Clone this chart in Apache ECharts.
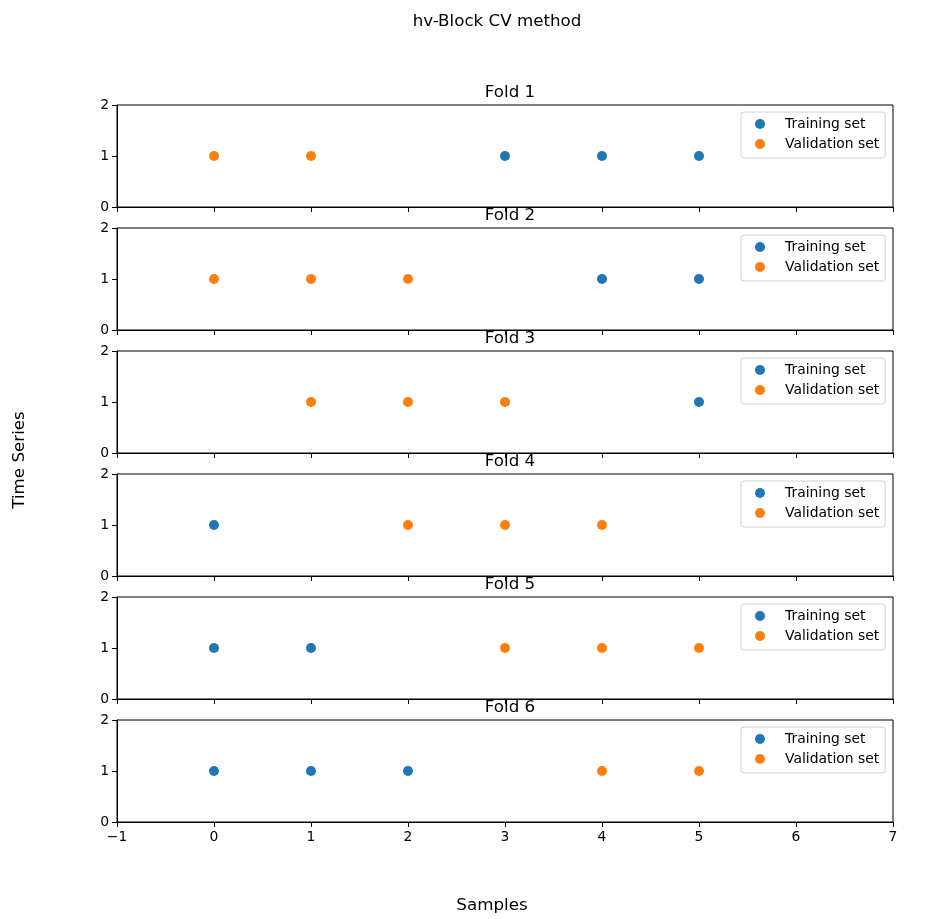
<!DOCTYPE html>
<html>
<head>
<meta charset="utf-8">
<script src="https://cdn.jsdelivr.net/npm/echarts@6/dist/echarts.min.js"></script>
<style>
html,body{margin:0;padding:0;background:#fff;}
#chart{width:952px;height:919px;}
</style>
</head>
<body>
<div id="chart"></div>
<script>
// Data
const foldNames = ['Fold 1', 'Fold 2', 'Fold 3', 'Fold 4', 'Fold 5', 'Fold 6'];
const trainingSamples = [
  [3, 4, 5],
  [4, 5],
  [5],
  [0],
  [0, 1],
  [0, 1, 2]
];
const validationSamples = [
  [0, 1],
  [0, 1, 2],
  [1, 2, 3],
  [2, 3, 4],
  [3, 4, 5],
  [4, 5]
];
const seriesValue = 1;
const xTicks = [-1, 0, 1, 2, 3, 4, 5, 6, 7];
const yTicks = [0, 1, 2];

const FONT = 'DejaVu Sans';
const TICK_FS = 13.9, TITLE_FS = 16.7;
const gridLeft = 117, gridWidth = 776, gridTop0 = 105, gridH = 102, gridStep = 123;
const fmt = v => String(v).replace('-', '\u2212');

const grids = [], xAxes = [], yAxes = [], series = [], titles = [], legends = [];
foldNames.forEach((name, i) => {
  const top = gridTop0 + i * gridStep;
  const last = i === foldNames.length - 1;
  grids.push({left: gridLeft, top: top, width: gridWidth, height: gridH,
    show: true, borderColor: '#000', borderWidth: 1, backgroundColor: '#fff'});
  xAxes.push({type: 'value', gridIndex: i, min: xTicks[0], max: xTicks[xTicks.length - 1], interval: 1,
    axisLine: {show: true, onZero: false, lineStyle: {color: '#000', width: 1}},
    axisTick: {show: true, length: 5, lineStyle: {color: '#000'}},
    axisLabel: {show: last, color: '#000', fontFamily: FONT, fontSize: TICK_FS, margin: 8, formatter: fmt},
    splitLine: {show: false}});
  yAxes.push({type: 'value', gridIndex: i, min: yTicks[0], max: yTicks[yTicks.length - 1], interval: 1,
    axisLine: {show: true, onZero: false, lineStyle: {color: '#000', width: 1}},
    axisTick: {show: true, length: 5, lineStyle: {color: '#000'}},
    axisLabel: {show: true, color: '#000', fontFamily: FONT, fontSize: TICK_FS, margin: 8, formatter: fmt},
    splitLine: {show: false}});
  series.push({type: 'scatter', name: 'Training set', xAxisIndex: i, yAxisIndex: i,
    data: trainingSamples[i].map(x => [x, seriesValue]), symbolSize: 10,
    itemStyle: {color: '#1f77b4', opacity: 1}, z: 3});
  series.push({type: 'scatter', name: 'Validation set', xAxisIndex: i, yAxisIndex: i,
    data: validationSamples[i].map(x => [x, seriesValue]), symbolSize: 10,
    itemStyle: {color: '#ff7f0e', opacity: 1}, z: 3});
  titles.push({text: name, left: gridLeft + gridWidth / 2, top: top - 26, textAlign: 'center',
    textStyle: {fontFamily: FONT, fontSize: TITLE_FS, fontWeight: 'normal', color: '#000'}});
  legends.push({orient: 'vertical', left: 741, top: top + 7, padding: [5, 6, 7, 14],
    itemGap: 6, itemWidth: 24, itemHeight: 10, icon: 'circle',
    backgroundColor: 'rgba(255,255,255,0.8)', borderColor: '#d0d0d0', borderWidth: 1, borderRadius: 3,
    data: ['Training set', 'Validation set'], selectedMode: false,
    textStyle: {fontFamily: FONT, fontSize: TICK_FS, color: '#000', lineHeight: 14, padding: [0, 0, 0, 8]}});
});

titles.push({text: 'hv-Block CV method', left: 492, top: 8, textAlign: 'center',
  textStyle: {fontFamily: FONT, fontSize: TITLE_FS, fontWeight: 'normal', color: '#000'}});

const chart = echarts.init(document.getElementById('chart'), null, {renderer: 'canvas'});
chart.setOption({
  backgroundColor: '#fff',
  animation: false,
  title: titles,
  legend: legends,
  grid: grids,
  xAxis: xAxes,
  yAxis: yAxes,
  series: series,
  graphic: [
    {type: 'text', x: 492, y: 906,
      style: {text: 'Samples', font: TITLE_FS + 'px "DejaVu Sans"', fill: '#000', align: 'center', verticalAlign: 'middle'}},
    {type: 'text', x: 20, y: 460, rotation: Math.PI / 2,
      style: {text: 'Time Series', font: TITLE_FS + 'px "DejaVu Sans"', fill: '#000', align: 'center', verticalAlign: 'middle'}}
  ]
});
</script>
</body>
</html>
